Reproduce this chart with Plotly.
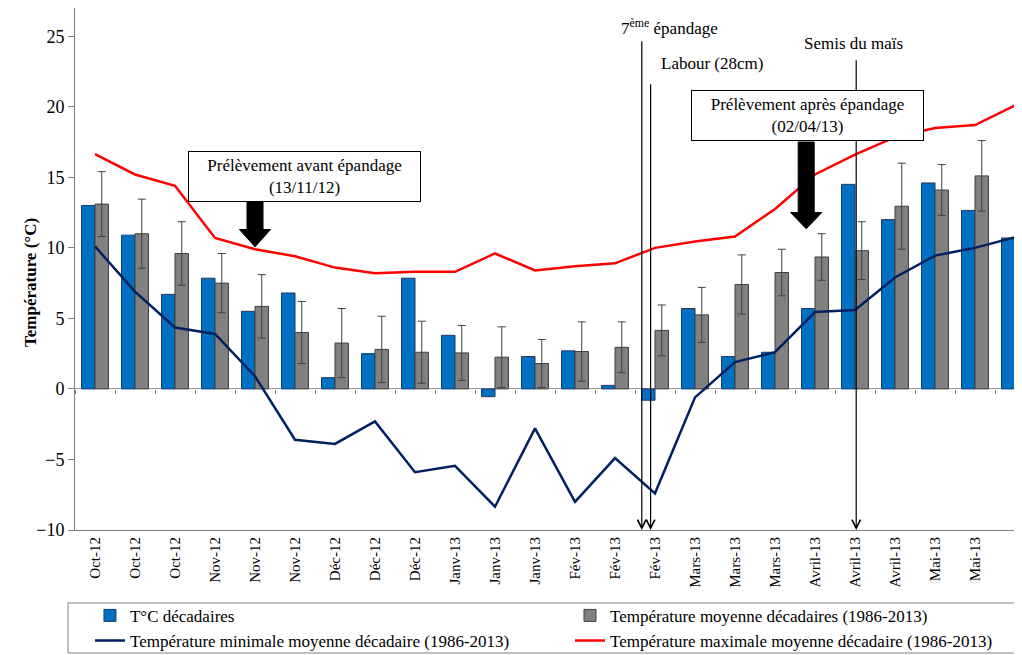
import plotly.graph_objects as go

# décades d'octobre 2012 à mai 2013 (la dernière décade n'a pas d'étiquette)
labels = (["Oct-12"] * 3 + ["Nov-12"] * 3 + ["Déc-12"] * 3 + ["Janv-13"] * 3 +
          ["Fév-13"] * 3 + ["Mars-13"] * 3 + ["Avril-13"] * 3 + ["Mai-13"] * 2)

t_dec = [13.0, 10.9, 6.7, 7.85, 5.5, 6.8, 0.8, 2.5, 7.85, 3.8, -0.55, 2.3,
         2.7, 0.25, -0.8, 5.7, 2.3, 2.6, 5.7, 14.5, 12.0, 14.6, 12.65, 10.7]
t_moy = [13.1, 11.0, 9.6, 7.5, 5.85, 4.0, 3.25, 2.8, 2.6, 2.55, 2.25, 1.8,
         2.65, 2.95, 4.15, 5.25, 7.4, 8.25, 9.35, 9.8, 12.95, 14.1, 15.1, 16.25]
t_moy_sd = [2.3, 2.45, 2.25, 2.1, 2.25, 2.2, 2.45, 2.35, 2.2, 1.95, 2.15, 1.7,
            2.1, 1.8, 1.8, 1.95, 2.1, 1.65, 1.65, 2.05, 3.05, 1.8, 2.5, 3.35]
t_min = [10.1, 6.9, 4.35, 3.9, 0.9, -3.6, -3.9, -2.3, -5.9, -5.45, -8.35, -2.8,
         -8.0, -4.9, -7.4, -0.6, 1.9, 2.6, 5.45, 5.6, 7.9, 9.45, 10.0, 10.75]
t_max = [16.65, 15.2, 14.4, 10.7, 9.9, 9.4, 8.6, 8.2, 8.3, 8.3, 9.6, 8.4,
         8.7, 8.9, 10.0, 10.45, 10.8, 12.75, 15.2, 16.6, 17.85, 18.5, 18.7, 20.1]

x = list(range(len(t_dec)))

# interventions (position sur l'axe des décades, haut du trait)
events = ["7<sup>ème</sup> épandage", "Labour (28cm)", "Semis du maïs"]
event_x = [13.67, 13.89, 19.03]
event_top = [24.75, 21.7, 23.4]
event_label_x = [14.35, 15.43, 18.95]
event_label_y = [25.67, 23.05, 24.47]

# prélèvements
samples = ["Prélèvement avant épandage<br>(13/11/12)",
           "Prélèvement après épandage<br>(02/04/13)"]
sample_box_x = [5.24, 17.81]
sample_box_y = [15.07, 19.36]
sample_arrow_x = [4.0, 17.78]
sample_arrow_top = [13.25, 17.5]
sample_arrow_neck = [11.3, 12.5]
sample_arrow_tip = [10.07, 11.35]

FONT = "Liberation Serif, Times New Roman, serif"
XR = [-0.5, 23.175]
YR = [-10, 27]

fig = go.Figure()

fig.add_trace(go.Bar(
    x=x, y=t_dec, name="T°C décadaires", legend="legend",
    marker=dict(color="#0070C0", line=dict(color="#1F3864", width=1)),
))
fig.add_trace(go.Bar(
    x=x, y=t_moy, name="Température moyenne décadaires (1986-2013)", legend="legend2",
    marker=dict(color="#808080", line=dict(color="#404040", width=1)),
    error_y=dict(type="data", array=t_moy_sd, color="#404040", thickness=1, width=4),
))
fig.add_trace(go.Scatter(
    x=x, y=t_min, mode="lines", name="Température minimale moyenne décadaire (1986-2013)",
    line=dict(color="#002060", width=2.5), legend="legend",
))
fig.add_trace(go.Scatter(
    x=x, y=t_max, mode="lines", name="Température maximale moyenne décadaire (1986-2013)",
    line=dict(color="#FF0000", width=2.5), xaxis="x2", legend="legend2",
))

annotations = []
# traits verticaux des interventions
for ex, et in zip(event_x, event_top):
    annotations.append(dict(
        x=ex, y=YR[0], ax=ex, ay=et, xref="x", yref="y", axref="x", ayref="y",
        text="", showarrow=True, arrowhead=5, arrowsize=1.4, arrowwidth=1.2,
        arrowcolor="black", standoff=0,
    ))
for t, lx, ly in zip(events, event_label_x, event_label_y):
    annotations.append(dict(
        x=lx, y=ly, xref="x", yref="y", text=t, showarrow=False,
        font=dict(family=FONT, size=17, color="black"),
    ))
# cadres des prélèvements
for t, bx, by in zip(samples, sample_box_x, sample_box_y):
    annotations.append(dict(
        x=bx, y=by, xref="x", yref="y", text=t, showarrow=False,
        font=dict(family=FONT, size=17, color="black"),
        bgcolor="white", bordercolor="black", borderwidth=1, borderpad=1,
        width=229, height=47,
    ))
# titre de l'axe y
annotations.append(dict(
    x=-0.0597, y=0.475, xref="paper", yref="paper", text="<b>Température (°C)</b>",
    textangle=-90, showarrow=False, font=dict(family=FONT, size=17, color="black"),
))

shapes = []
# flèches pleines sous les cadres
for ax_, top, neck, tip in zip(sample_arrow_x, sample_arrow_top, sample_arrow_neck, sample_arrow_tip):
    sw, hw = 0.2, 0.39
    path = (f"M{ax_ - sw},{top} L{ax_ + sw},{top} L{ax_ + sw},{neck} L{ax_ + hw},{neck} "
            f"L{ax_},{tip} L{ax_ - hw},{neck} L{ax_ - sw},{neck} Z")
    shapes.append(dict(type="path", path=path, xref="x", yref="y",
                       fillcolor="black", line=dict(color="black", width=1)))
# cadre de la légende
shapes.append(dict(type="rect", xref="paper", yref="paper",
                   x0=-0.0074, x1=1.01, y0=-0.1398, y1=-0.2356,
                   line=dict(color="#808080", width=1), fillcolor="rgba(0,0,0,0)"))

legend_style = dict(orientation="v", y=-0.130, yanchor="top", xanchor="left",
                    font=dict(family=FONT, size=17), bgcolor="rgba(0,0,0,0)",
                    borderwidth=0, tracegroupgap=0)

# la page ajoute une marge de 8 px : la figure fait donc 1014 x 647
fig.update_layout(
    width=1014, height=647,
    margin=dict(l=67, r=0, t=0, b=125, autoexpand=False),
    paper_bgcolor="white", plot_bgcolor="white",
    font=dict(family=FONT, size=17, color="black"),
    barmode="group", bargap=0.325, bargroupgap=0,
    showlegend=True,
    legend=dict(x=0.0158, **legend_style),
    legend2=dict(x=0.5227, **legend_style),
    xaxis=dict(range=XR, tickvals=x[:len(labels)], ticktext=labels, tickangle=-90,
               tickfont=dict(family=FONT, size=15), ticks="",
               showline=True, mirror=True, linecolor="#808080", linewidth=1,
               showgrid=False, zeroline=False),
    xaxis2=dict(range=XR, overlaying="x", anchor="free", position=10 / 37, side="bottom",
                tickvals=[i - 0.5 for i in range(len(x) + 1)], ticks="outside",
                ticklen=4, tickcolor="#808080", showticklabels=False,
                showline=False, showgrid=False, zeroline=False),
    yaxis=dict(range=YR, tickvals=list(range(-10, 26, 5)), ticks="outside", ticklen=6,
               tickcolor="#808080", tickfont=dict(family=FONT, size=18),
               showline=True, linecolor="#808080", linewidth=1, showgrid=False,
               zeroline=True, zerolinecolor="#A0A0A0", zerolinewidth=1),
    annotations=annotations,
    shapes=shapes,
)

fig.write_html("out.html")
